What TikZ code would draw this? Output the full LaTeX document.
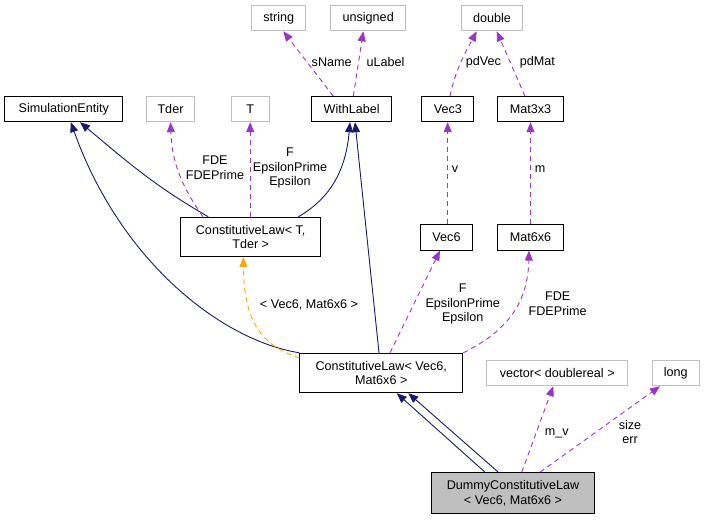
\documentclass[tikz,border=0pt]{standalone}
\usepackage{fontspec}
\setmainfont{Liberation Sans}
\usetikzlibrary{arrows.meta}
\definecolor{inhblue}{HTML}{191970}
\definecolor{usepurple}{HTML}{9A32CD}
\definecolor{tmplorange}{HTML}{FFA500}
\definecolor{extgray}{HTML}{BFBFBF}
\begin{document}
\begin{tikzpicture}[x=1pt, y=-1pt,
    cls/.style={draw=black, fill=white, line width=1pt, inner sep=0pt, align=center, font=\fontsize{12.6}{14.8}\selectfont, minimum height=25pt},
    ext/.style={cls, draw=extgray},
    cur/.style={cls, fill=extgray},
    lbl/.style={inner sep=0pt, align=center, font=\fontsize{12.6}{14.8}\selectfont},
    inh/.style={draw=inhblue, line width=0.9pt, -{Triangle[length=10pt,width=8pt]}},
    use/.style={draw=usepurple, line width=0.9pt, dash pattern=on 5pt off 4pt, -{Triangle[length=10pt,width=8pt]}},
    tmpl/.style={draw=tmplorange, line width=0.9pt, dash pattern=on 5pt off 4pt, -{Triangle[length=10pt,width=8pt]}}]
  \useasboundingbox (0,0) rectangle (705,520);

  % Top row (plain types)
  \node[ext, minimum width=54pt] (str) at (278.7, 18.3) {string};
  \node[ext, minimum width=75pt] (uns) at (368.2, 18.3) {unsigned};
  \node[ext, minimum width=60.6pt] (dbl) at (492, 18.3) {double};

  % Second row
  \node[cls, minimum width=117.7pt] (sim) at (63.8, 109.2) {SimulationEntity};
  \node[ext, minimum width=47.6pt] (tder) at (170.5, 109.2) {Tder};
  \node[ext, minimum width=38.3pt] (tt) at (250.2, 109.2) {T};
  \node[cls, minimum width=80pt] (wl) at (351.7, 109.2) {WithLabel};
  \node[cls, minimum width=52.3pt] (v3) at (447.8, 109.2) {Vec3};
  \node[cls, minimum width=65.6pt] (m3) at (530.5, 109.2) {Mat3x3};

  % Third row
  \node[cls, minimum width=140pt, minimum height=39.4pt] (clT) at (250.7, 237) {ConstitutiveLaw< T,\\Tder >};
  \node[cls, minimum width=51.6pt, minimum height=25.7pt] (v6) at (446.5, 237.2) {Vec6};
  \node[cls, minimum width=65.6pt, minimum height=25.7pt] (m6) at (530.5, 237.2) {Mat6x6};

  % Fourth row
  \node[cls, minimum width=162.7pt, minimum height=39.4pt] (clV) at (381.3, 373) {ConstitutiveLaw< Vec6,\\Mat6x6 >};
  \node[ext, minimum width=141pt] (vec) at (557.2, 373.2) {vector< doublereal >};
  \node[ext, minimum width=47pt] (lng) at (675.8, 373.2) {long};

  % The class itself
  \node[cur, minimum width=162.6pt, minimum height=40.6pt] (dcl) at (513, 493) {DummyConstitutiveLaw\\< Vec6, Mat6x6 >};

  % Members of WithLabel, Vec3, Mat3x3
  \draw[use] ([xshift=-18.4pt]wl.north) -- ([xshift=4.6pt]str.south);
  \node[lbl] (lsn) at (331.7, 62) {sName};
  \draw[use] ([xshift=1.6pt]wl.north) -- ([xshift=-4.9pt]uns.south);
  \node[lbl] (lul) at (385.5, 62) {uLabel};
  \draw[use] ([xshift=2.2pt]v3.north) to[out=78, in=-118] ([xshift=-15.3pt]dbl.south);
  \node[lbl] (lpv) at (483.3, 62) {pdVec};
  \draw[use] ([xshift=-5.5pt]m3.north) -- ([xshift=4.7pt]dbl.south);
  \node[lbl] (lpm) at (537.3, 62) {pdMat};
  \draw[use] ([xshift=1.2pt]v6.north) -- ([xshift=-0.1pt]v3.south);
  \node[lbl] (lv) at (455, 169) {v};
  \draw[use] (m6.north) -- (m3.south);
  \node[lbl] (lm) at (540, 169) {m};

  % ConstitutiveLaw< T, Tder >
  \draw[inh] ([xshift=-42.4pt]clT.north) to[out=150, in=-40] ([xshift=16.2pt]sim.south);
  \draw[use] ([xshift=-47.7pt]clT.north) to[out=125, in=-88] (tder.south);
  \node[lbl] (lfd) at (215, 168) {FDE\\FDEPrime};
  \draw[use] ([xshift=-0.5pt]clT.north) -- (tt.south);
  \node[lbl] (lfe) at (290, 168) {F\\EpsilonPrime\\Epsilon};
  \draw[inh] ([xshift=47.6pt]clT.north) to[out=30, in=-95] ([xshift=-1.7pt]wl.south);

  % ConstitutiveLaw< Vec6, Mat6x6 >
  \draw[inh] (clV.north west) .. controls (220, 340) and (120, 260) .. ([xshift=7pt]sim.south);
  \draw[tmpl] ([yshift=15pt]clV.west) .. controls (260, 345) and (244, 320) .. ([xshift=-7.4pt]clT.south);
  \node[lbl] (ltp) at (309, 305) {< Vec6, Mat6x6 >};
  \draw[inh] ([xshift=-2.3pt]clV.north) -- ([xshift=3.3pt]wl.south);
  \draw[use] ([xshift=8.7pt]clV.north) -- ([xshift=-6.5pt]v6.south);
  \node[lbl] (lfe2) at (462.7, 304) {F\\EpsilonPrime\\Epsilon};
  \draw[use] (clV.north east) .. controls (510, 330) and (528, 300) .. ([xshift=-1.5pt]m6.south);
  \node[lbl] (lfd2) at (557.7, 303.5) {FDE\\FDEPrime};

  % DummyConstitutiveLaw
  \draw[inh] ([xshift=-28pt]dcl.north) -- ([xshift=15.4pt]clV.south);
  \draw[inh] ([xshift=-14.7pt]dcl.north) -- ([xshift=27pt]clV.south);
  \draw[use] ([xshift=8.7pt]dcl.north) -- ([xshift=-3.9pt]vec.south);
  \node[lbl] (lmv) at (556.7, 433) {m\_v};
  \draw[use] ([xshift=27pt]dcl.north) -- ([xshift=-15.8pt]lng.south);
  \node[lbl] (lse) at (630, 432) {size\\err};
\end{tikzpicture}
\end{document}
